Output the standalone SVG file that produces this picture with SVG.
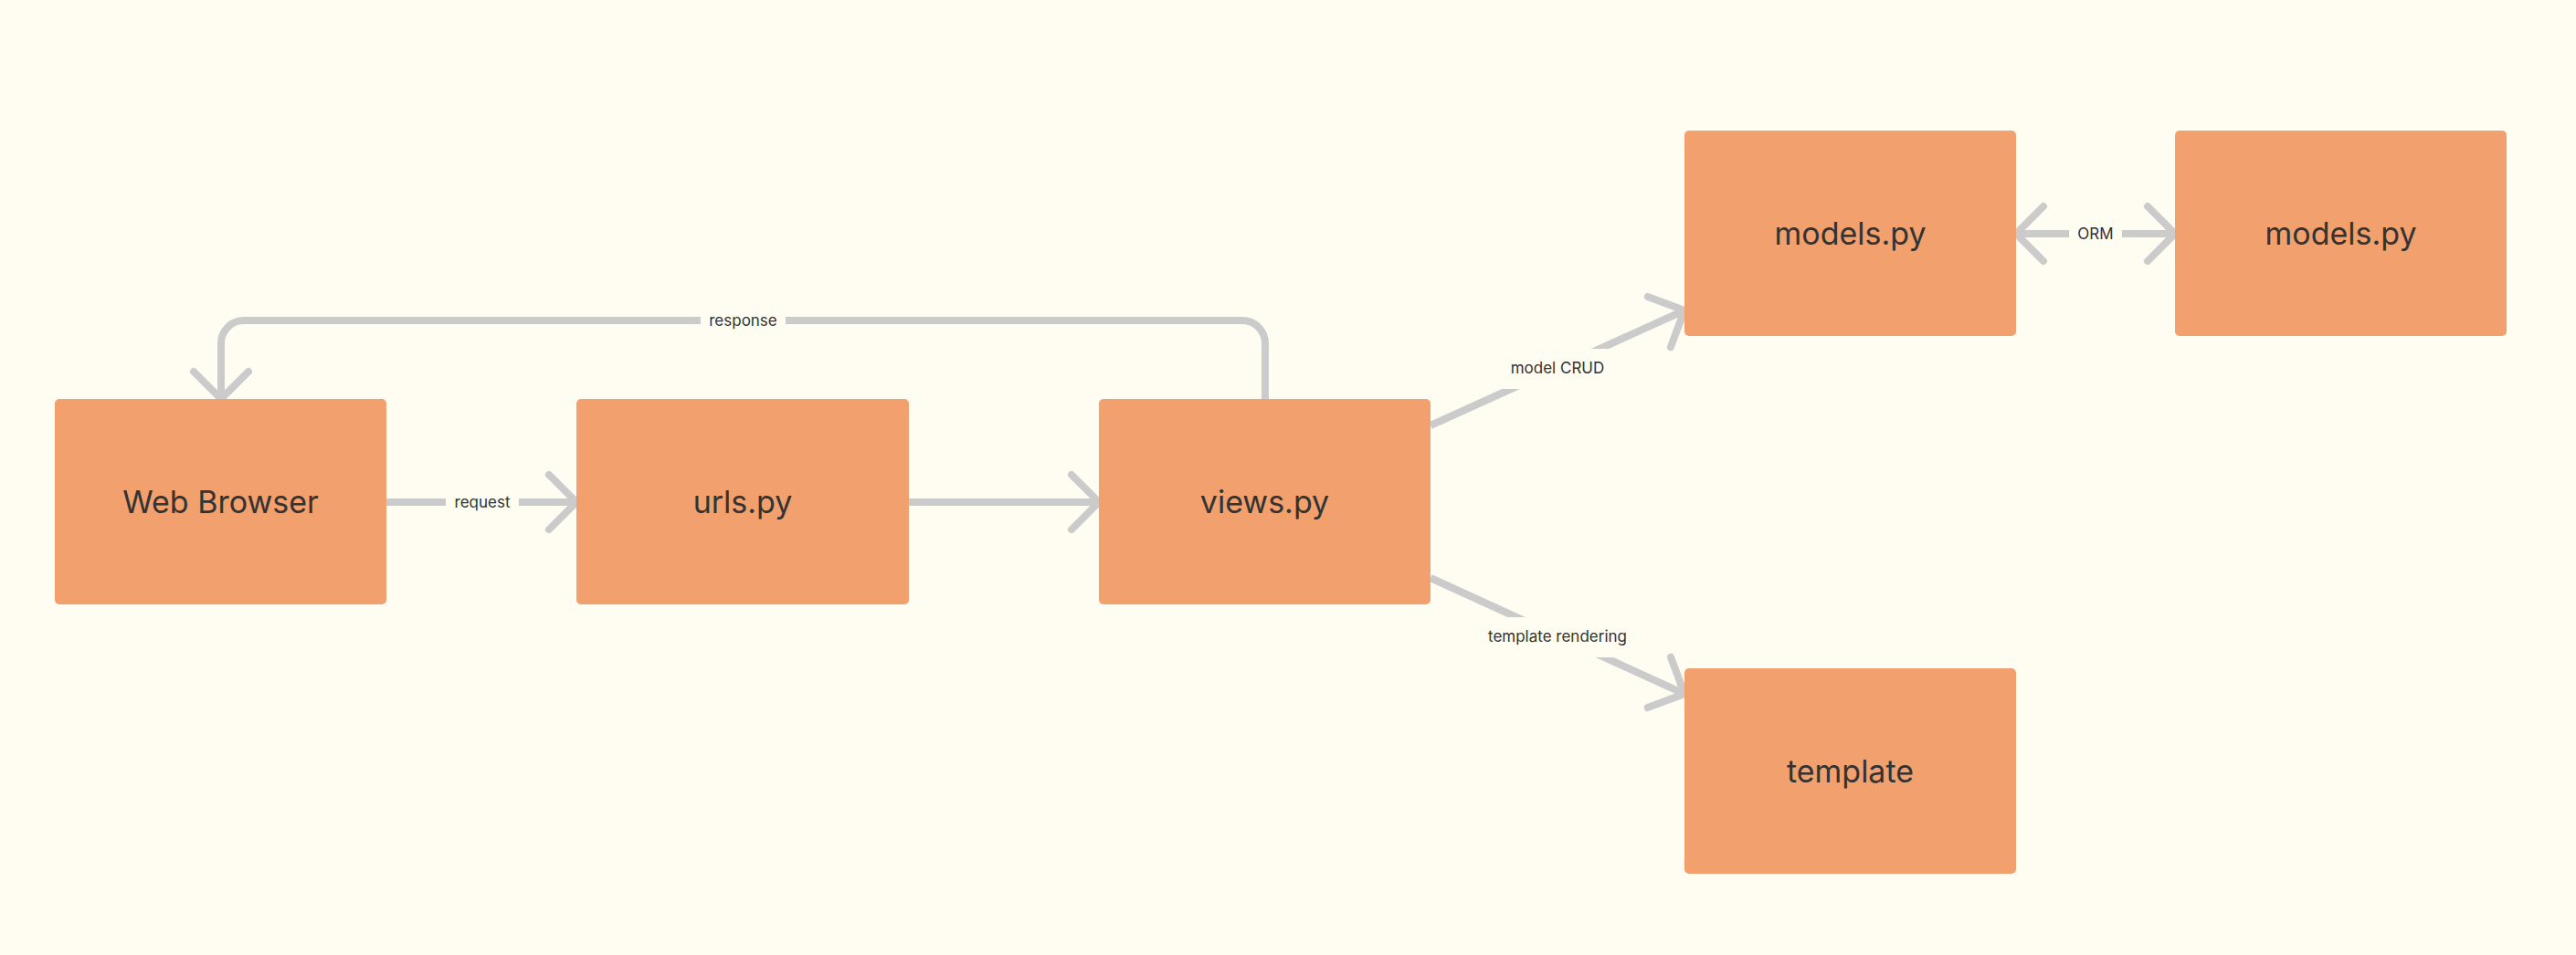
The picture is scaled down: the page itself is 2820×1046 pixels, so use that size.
<svg xmlns="http://www.w3.org/2000/svg" width="2820" height="1046" viewBox="0 0 2820 1046">
  <style>
    .node rect { fill: #F1A06E; }
    .node text { font-family: Inter, "Noto Sans", "Liberation Sans", sans-serif; font-size: 34px; fill: #333333; text-anchor: middle; }
    .edge { fill: none; stroke: #CBCBCB; stroke-width: 8; }
    .head { fill: none; stroke: #CBCBCB; stroke-width: 8; stroke-linecap: round; stroke-linejoin: round; }
    .lblbg { fill: #FFFDF2; }
    .lbl { font-family: Inter, "Noto Sans", "Liberation Sans", sans-serif; font-size: 17px; fill: #333333; text-anchor: middle; }
  </style>
  <rect x="0" y="0" width="2820" height="1046" fill="#FFFDF2"/>

  <g id="connectors">
    <!-- request -->
    <line class="edge" x1="423" y1="550" x2="631" y2="550"/>
    <path class="head" d="M601 520 L631 550 L601 580"/>
    <rect class="lblbg" x="488" y="528" width="80" height="44"/>
    <text class="lbl" x="528" y="556">request</text>

    <!-- urls -> views -->
    <line class="edge" x1="995" y1="550" x2="1203" y2="550"/>
    <path class="head" d="M1173 520 L1203 550 L1173 580"/>

    <!-- response -->
    <path class="edge" d="M1385 437 V376 A25 25 0 0 0 1360 351 H267 A25 25 0 0 0 242 376 V437"/>
    <path class="head" d="M212 407 L242 437 L272 407"/>
    <rect class="lblbg" x="767" y="329" width="93" height="44"/>
    <text class="lbl" x="813.5" y="357">response</text>

    <!-- model CRUD -->
    <line class="edge" x1="1566" y1="466" x2="1844" y2="340"/>
    <path class="head" d="M1803.8 324.9 L1844 340 L1828.9 380.2"/>
    <rect class="lblbg" x="1645.5" y="382" width="119" height="44"/>
    <text class="lbl" x="1705" y="409">model CRUD</text>

    <!-- template rendering -->
    <line class="edge" x1="1566" y1="633" x2="1844" y2="760"/>
    <path class="head" d="M1829 719.7 L1844 760 L1803.7 775"/>
    <rect class="lblbg" x="1619.5" y="676" width="171" height="44"/>
    <text class="lbl" x="1705" y="703">template rendering</text>

    <!-- ORM -->
    <line class="edge" x1="2207" y1="256" x2="2381" y2="256"/>
    <path class="head" d="M2237 226 L2207 256 L2237 286"/>
    <path class="head" d="M2351 226 L2381 256 L2351 286"/>
    <rect class="lblbg" x="2265" y="234" width="58" height="44"/>
    <text class="lbl" x="2294" y="262">ORM</text>
  </g>

  <g id="web-browser" class="node">
    <rect x="60" y="437" width="363" height="225" rx="5"/>
    <text x="241.5" y="562">Web Browser</text>
  </g>
  <g id="urls" class="node">
    <rect x="631" y="437" width="364" height="225" rx="5"/>
    <text x="813" y="562">urls.py</text>
  </g>
  <g id="views" class="node">
    <rect x="1203" y="437" width="363" height="225" rx="5"/>
    <text x="1384.5" y="562">views.py</text>
  </g>
  <g id="models1" class="node">
    <rect x="1844" y="143" width="363" height="225" rx="5"/>
    <text x="2025.5" y="268">models.py</text>
  </g>
  <g id="models2" class="node">
    <rect x="2381" y="143" width="363" height="225" rx="5"/>
    <text x="2562.5" y="268">models.py</text>
  </g>
  <g id="template" class="node">
    <rect x="1844" y="732" width="363" height="225" rx="5"/>
    <text x="2025.5" y="857">template</text>
  </g>
</svg>
